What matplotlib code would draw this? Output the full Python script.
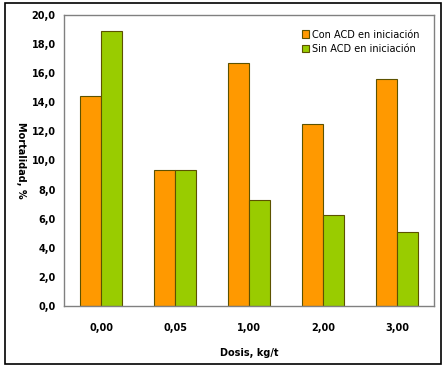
import matplotlib
matplotlib.use('Agg')
import matplotlib.pyplot as plt
import numpy as np
from matplotlib.patches import Rectangle

dosis = ['0,00', '0,05', '1,00', '2,00', '3,00']
con_acd = [14.4, 9.35, 16.7, 12.5, 15.6]
sin_acd = [18.9, 9.35, 7.3, 6.25, 5.1]

fig = plt.figure(figsize=(4.45, 3.7), dpi=100)
ax = fig.add_axes([64/445, 1-306/370, 370/445, 291/370])

x = np.arange(len(dosis))
w = 0.285
ax.bar(x - w/2, con_acd, w, color='#FF9900', edgecolor='#5c5200', linewidth=0.8,
       label='Con ACD en iniciación')
ax.bar(x + w/2, sin_acd, w, color='#99CC00', edgecolor='#5c5200', linewidth=0.8,
       label='Sin ACD en iniciación')

ax.set_xlim(-0.5, 4.5)
ax.set_ylim(0, 20)
ax.set_yticks(np.arange(0, 21, 2))
ax.set_yticklabels([f'{v:.1f}'.replace('.', ',') for v in np.arange(0, 21, 2)],
                   fontsize=7, fontweight='bold')
ax.set_xticks(x)
ax.set_xticklabels(dosis, fontsize=7, fontweight='bold')
ax.tick_params(length=0, pad=12, axis='x')
ax.tick_params(length=0, pad=6, axis='y')
for s in ax.spines.values():
    s.set_color('#808080')
    s.set_linewidth(1)

ax.set_ylabel('Mortalidad, %', fontsize=7, fontweight='bold', rotation=270,
              labelpad=10)
ax.yaxis.set_label_coords(-0.13, 0.5)
ax.set_xlabel('Dosis, kg/t', fontsize=7, fontweight='bold', labelpad=11)

leg = ax.legend(loc='upper right', bbox_to_anchor=(0.985, 0.98), frameon=False,
                fontsize=7, handlelength=0.8, handleheight=0.8, handletextpad=0.3,
                labelspacing=0.45)

fig.patches.append(Rectangle((5/445, 6/370), 436/445, 361/370, transform=fig.transFigure,
                             fill=False, edgecolor='black', linewidth=1.2))

fig.savefig('out.png', dpi=100)
